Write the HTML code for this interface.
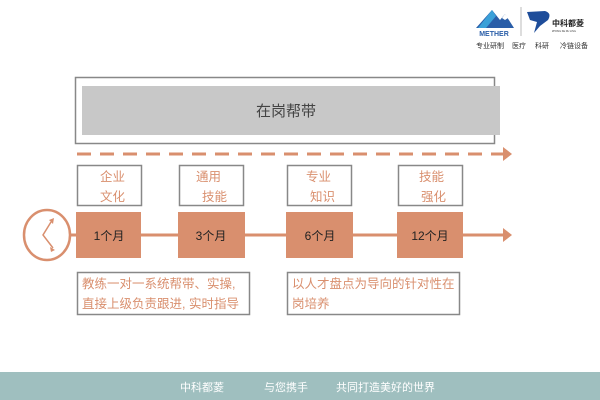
<!DOCTYPE html>
<html><head><meta charset="utf-8"><style>
html,body{margin:0;padding:0;background:#fff;}
svg{display:block;font-family:"Liberation Sans","Noto Sans CJK SC",sans-serif;}
</style></head><body>
<svg width="600" height="400" viewBox="0 0 600 400" xmlns="http://www.w3.org/2000/svg">
<!-- logo -->
<polygon points="476,28 492,10 500,20 505,14 514,28" fill="#2a5ea8"/>
<polygon points="478,28 492,10 496,16 486,28" fill="#3aa0d8"/>
<polygon points="502,18 505,14 508,18 505,20" fill="#fff"/>
<text x="494" y="36" font-size="7" font-weight="bold" fill="#2a5ea8" text-anchor="middle">METHER</text>
<line x1="521" y1="7" x2="521" y2="36" stroke="#bbb" stroke-width="1"/>
<path d="M527,12 L545,11 Q552,13 548,20 L540,26 L534,33 L537,22 L530,20 Z" fill="#1e4d9a"/>
<text x="552" y="26" font-size="8" font-weight="bold" fill="#222">中科都菱</text>
<text x="552" y="32" font-size="2.5" fill="#333">ZHONG KE DU LING</text>
<g font-size="7" fill="#333">
<text x="476" y="48">专业研制</text>
<text x="512" y="48">医疗</text>
<text x="535" y="48">科研</text>
<text x="560" y="48">冷链设备</text>
</g>

<!-- top band -->
<rect x="75.5" y="77.5" width="419" height="66" fill="#fff" stroke="#888" stroke-width="1.5"/>
<rect x="82" y="86" width="418" height="49" fill="#c8c8c8"/>
<text x="286" y="116" font-size="15" fill="#444" text-anchor="middle">在岗帮带</text>

<!-- dashed arrow -->
<line x1="77" y1="154" x2="503" y2="154" stroke="#d98f6e" stroke-width="3" stroke-dasharray="14,9"/>
<polygon points="503,147 512,154 503,161" fill="#d98f6e"/>

<!-- timeline line -->
<line x1="70" y1="235" x2="504" y2="235" stroke="#d98f6e" stroke-width="3"/>
<polygon points="503,228 512,235 503,242" fill="#d98f6e"/>
<ellipse cx="47" cy="235" rx="23" ry="25" fill="#fff" stroke="#d98f6e" stroke-width="2.5"/>
<polyline points="51,222 43,235 53,248" fill="none" stroke="#d98f6e" stroke-width="1.5"/>
<polygon points="49,220 54,218 53,224" fill="#d98f6e"/>
<polygon points="50,247 55,250 51,252" fill="#d98f6e"/>

<!-- label boxes -->
<g stroke="#888" stroke-width="1.5" fill="#fff">
<rect x="77.5" y="165.5" width="64" height="40"/>
<rect x="179.5" y="165.5" width="64" height="40"/>
<rect x="287.5" y="165.5" width="64" height="40"/>
<rect x="398.5" y="165.5" width="64" height="40"/>
<rect x="77.5" y="272.5" width="172" height="42"/>
<rect x="287.5" y="272.5" width="172" height="42"/>
</g>
<g font-size="12.5" fill="#d98f6e">
<text x="100" y="181">企业</text><text x="100" y="201">文化</text>
<text x="196" y="181">通用</text><text x="202" y="201">技能</text>
<text x="306" y="181">专业</text><text x="310" y="201">知识</text>
<text x="419" y="181">技能</text><text x="421" y="201">强化</text>
<text x="82" y="288">教练一对一系统帮带、实操,</text>
<text x="82" y="308">直接上级负责跟进, 实时指导</text>
<text x="292" y="288">以人才盘点为导向的针对性在</text>
<text x="292" y="308">岗培养</text>
</g>

<!-- month boxes -->
<g fill="#d98f6e">
<rect x="76" y="212" width="65" height="46"/>
<rect x="178" y="212" width="67" height="46"/>
<rect x="286" y="212" width="67" height="46"/>
<rect x="397" y="212" width="66" height="46"/>
</g>
<g font-size="12" fill="#222" text-anchor="middle">
<text x="109" y="240">1个月</text>
<text x="211" y="240">3个月</text>
<text x="320" y="240">6个月</text>
<text x="430" y="240">12个月</text>
</g>

<!-- footer -->
<rect x="0" y="372" width="600" height="28" fill="#9fbfbf"/>
<g font-size="11" fill="#fff">
<text x="180" y="391">中科都菱</text>
<text x="264" y="391">与您携手</text>
<text x="336" y="391">共同打造美好的世界</text>
</g>
</svg>
</body></html>
